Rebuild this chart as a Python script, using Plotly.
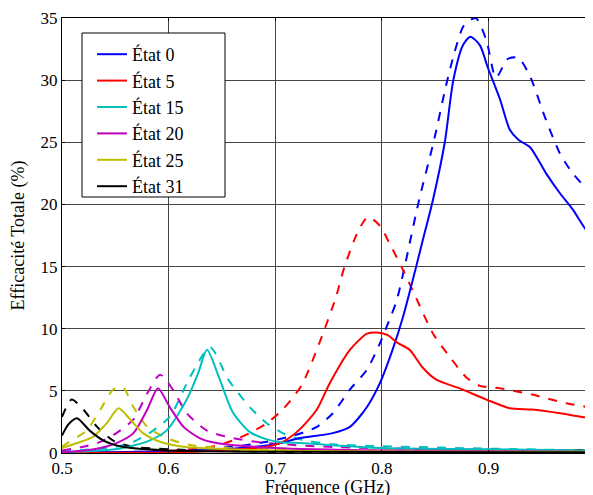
import plotly.graph_objects as go

# --- data ---
legend_names = ["État 0", "État 5", "État 15", "État 20", "État 25", "État 31"]
colors = ["#0000FF", "#FF0000", "#00BFBF", "#BF00BF", "#BFBF00", "#000000"]

# État 0
f_e0_solid = [0.5, 0.6, 0.65, 0.7, 0.723, 0.754, 0.77, 0.786, 0.798, 0.81, 0.82, 0.831, 0.838, 0.848, 0.859, 0.867,
              0.876, 0.883, 0.892, 0.899, 0.911, 0.92, 0.928, 0.939, 0.954, 0.967, 0.979, 0.992, 1.0]
v_e0_solid = [0.05, 0.15, 0.3, 0.7, 1.2, 1.6, 2.1, 3.7, 5.6, 8.3, 11.0, 14.6, 17.0, 20.4, 25.0, 30.0,
              32.8, 33.5, 32.8, 31.1, 28.4, 26.0, 25.2, 24.6, 22.5, 20.9, 19.6, 17.9, 17.4]
f_e0_dash = [0.5, 0.6, 0.66, 0.692, 0.717, 0.739, 0.754, 0.77, 0.786, 0.798, 0.807, 0.814, 0.835, 0.849, 0.86, 0.868,
             0.877, 0.888, 0.898, 0.907, 0.918, 0.928, 0.939, 0.953, 0.967, 0.979, 0.996, 1.0]
v_e0_dash = [0.05, 0.15, 0.5, 0.9, 1.4, 2.1, 3.2, 5.1, 6.7, 8.8, 10.7, 12.3, 20.4, 25.2, 29.5, 32.2,
             34.4, 35.0, 33.2, 30.2, 31.7, 31.8, 30.3, 27.0, 24.1, 22.5, 20.9, 20.6]

# État 5
f_e5_solid = [0.5, 0.6, 0.65, 0.692, 0.707, 0.723, 0.739, 0.751, 0.77, 0.786, 0.795, 0.805, 0.814, 0.826, 0.838, 0.851,
              0.873, 0.898, 0.92, 0.941, 0.967, 0.988, 1.0]
v_e5_solid = [0.02, 0.05, 0.2, 0.5, 0.9, 1.9, 3.5, 5.6, 8.3, 9.6, 9.7, 9.5, 8.9, 8.3, 6.9, 5.9,
              5.2, 4.3, 3.6, 3.5, 3.2, 2.9, 2.8]
f_e5_dash = [0.5, 0.6, 0.645, 0.66, 0.676, 0.692, 0.707, 0.725, 0.756, 0.765, 0.778, 0.787, 0.798, 0.807, 0.82, 0.831,
             0.848, 0.864, 0.879, 0.892, 0.911, 0.941, 0.973, 1.0]
v_e5_dash = [0.02, 0.15, 0.6, 1.0, 1.6, 2.4, 3.5, 5.5, 12.3, 15.0, 17.9, 19.0, 18.3, 16.9, 14.7, 12.7,
             9.6, 7.7, 6.1, 5.4, 5.2, 4.7, 4.0, 3.6]

# État 15
f_e15_solid = [0.5, 0.55, 0.567, 0.582, 0.598, 0.617, 0.628, 0.636, 0.648, 0.66, 0.676, 0.692, 0.707, 0.723, 0.8, 0.9, 1.0]
v_e15_solid = [0.05, 0.3, 0.6, 1.0, 1.8, 4.3, 6.5, 8.3, 5.9, 3.3, 1.7, 1.1, 0.85, 0.8, 0.4, 0.3, 0.2]
f_e15_dash = [0.5, 0.55, 0.567, 0.582, 0.601, 0.62, 0.639, 0.656, 0.676, 0.692, 0.707, 0.723, 0.754, 0.8, 0.9, 1.0]
v_e15_dash = [0.1, 0.5, 0.9, 1.6, 2.9, 6.1, 8.5, 5.9, 3.7, 2.4, 1.6, 1.1, 0.7, 0.55, 0.35, 0.2]

# État 20
f_e20_solid = [0.5, 0.53, 0.551, 0.567, 0.58, 0.59, 0.601, 0.614, 0.629, 0.645, 0.7, 0.8, 1.0]
v_e20_solid = [0.05, 0.3, 0.8, 1.6, 3.5, 5.2, 3.7, 2.1, 1.2, 0.8, 0.4, 0.2, 0.1]
f_e20_dash = [0.5, 0.52, 0.536, 0.551, 0.567, 0.58, 0.592, 0.604, 0.617, 0.636, 0.66, 0.692, 0.75, 0.85, 1.0]
v_e20_dash = [0.2, 0.5, 0.9, 1.6, 2.7, 4.8, 6.3, 5.1, 3.2, 1.8, 1.2, 0.8, 0.5, 0.3, 0.2]

# État 25
f_e25_solid = [0.5, 0.514, 0.529, 0.542, 0.553, 0.564, 0.576, 0.592, 0.614, 0.7, 1.0]
v_e25_solid = [0.4, 0.8, 1.3, 2.4, 3.6, 2.7, 1.6, 0.9, 0.5, 0.2, 0.1]
f_e25_dash = [0.5, 0.505, 0.523, 0.536, 0.548, 0.557, 0.567, 0.58, 0.598, 0.623, 0.7, 1.0]
v_e25_dash = [0.5, 0.8, 1.8, 3.5, 5.1, 5.3, 3.7, 2.1, 1.2, 0.6, 0.3, 0.2]

# État 31
f_e31_solid = [0.5, 0.506, 0.514, 0.526, 0.539, 0.557, 0.6, 0.7, 1.0]
v_e31_solid = [1.4, 2.3, 2.8, 1.8, 1.0, 0.5, 0.2, 0.1, 0.05]
f_e31_dash = [0.5, 0.509, 0.52, 0.533, 0.548, 0.567, 0.6, 0.7, 0.95, 1.0]
v_e31_dash = [2.9, 4.3, 3.5, 2.1, 1.0, 0.5, 0.3, 0.1, 0.1, 0.3]

x_ticks = [0.5, 0.6, 0.7, 0.8, 0.9, 1.0]
x_tick_labels = ["0.5", "0.6", "0.7", "0.8", "0.9", "1"]
y_ticks = [0, 5, 10, 15, 20, 25, 30, 35]

solid_series = [(f_e0_solid, v_e0_solid), (f_e5_solid, v_e5_solid), (f_e15_solid, v_e15_solid),
                (f_e20_solid, v_e20_solid), (f_e25_solid, v_e25_solid), (f_e31_solid, v_e31_solid)]
dash_series = [(f_e0_dash, v_e0_dash), (f_e5_dash, v_e5_dash), (f_e15_dash, v_e15_dash),
               (f_e20_dash, v_e20_dash), (f_e25_dash, v_e25_dash), (f_e31_dash, v_e31_dash)]

fig = go.Figure()
for (fx, fy), col, name in zip(dash_series, colors, legend_names):
    fig.add_trace(go.Scatter(x=fx, y=fy, mode="lines", name=name + " (b)", showlegend=False,
                             line=dict(color=col, width=2, dash="dash", shape="spline", smoothing=0.7)))
for (fx, fy), col, name in zip(solid_series, colors, legend_names):
    fig.add_trace(go.Scatter(x=fx, y=fy, mode="lines", name=name,
                             line=dict(color=col, width=2, shape="spline", smoothing=0.7)))

# page is drawn with an 8px body margin; plot area spans page x 62..593, y 18..453
PW, PH = 531.0, 435.0

def px(page_x):
    return (page_x - 62) / PW

def py(page_y):
    return (453 - page_y) / PH

# legend frame
fig.add_shape(type="rect", xref="paper", yref="paper",
              x0=px(82), x1=px(225), y0=py(197), y1=py(33),
              line=dict(color="black", width=1), fillcolor="white", layer="above")

font_family = "Liberation Serif"
fig.update_layout(
    width=585, height=490,
    margin=dict(l=54, r=0, t=10, b=45),
    paper_bgcolor="white", plot_bgcolor="white",
    font=dict(family=font_family, size=17, color="black"),
    showlegend=True,
    legend=dict(x=px(92), y=py(36), xanchor="left", yanchor="top",
                bgcolor="rgba(0,0,0,0)", borderwidth=0,
                font=dict(family=font_family, size=18, color="black"),
                itemwidth=30, tracegroupgap=0),
    xaxis=dict(range=[0.5, 0.998], tickvals=x_ticks, ticktext=x_tick_labels,
               showgrid=True, gridcolor="#444444", gridwidth=1,
               showline=True, linecolor="black", linewidth=1, mirror="ticks",
               ticks="inside", ticklen=3, tickcolor="black",
               zeroline=False, automargin=False,
               title=dict(text="Fréquence (GHz)", standoff=10,
                          font=dict(family=font_family, size=18))),
    yaxis=dict(range=[0, 35], tickvals=y_ticks,
               showgrid=True, gridcolor="#444444", gridwidth=1,
               showline=True, linecolor="black", linewidth=1, mirror="ticks",
               ticks="inside", ticklen=3, tickcolor="black",
               zeroline=False, automargin=False,
               title=dict(text="Efficacité Totale (%)", standoff=14,
                          font=dict(family=font_family, size=18))),
)

fig.write_html("out.html")
